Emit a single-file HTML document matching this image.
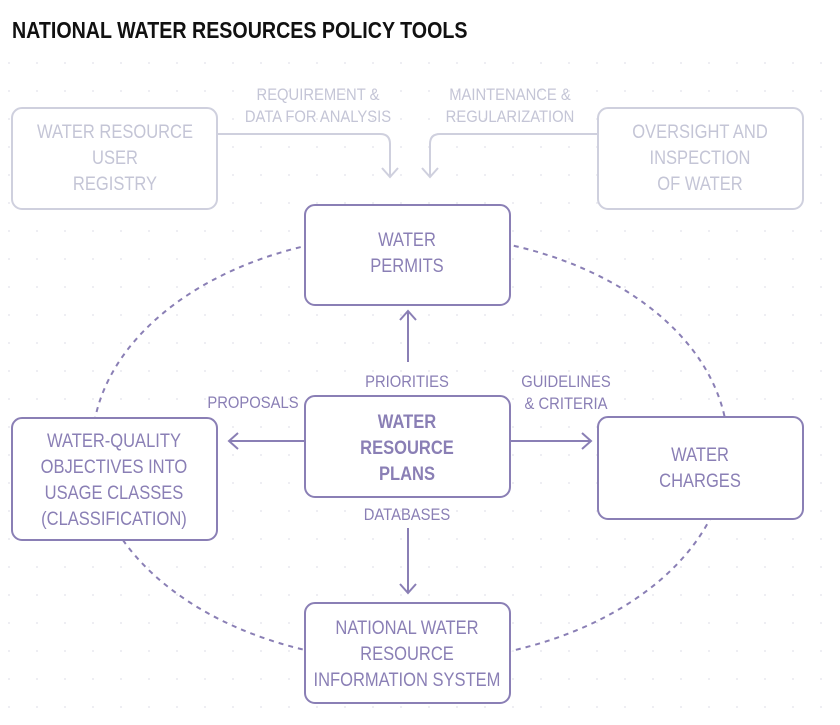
<!DOCTYPE html>
<html><head><meta charset="utf-8"><style>
body{margin:0;background:#fff;}
svg text{font-family:"Liberation Sans",sans-serif;}
</style></head><body>
<svg width="840" height="720" viewBox="0 0 840 720" xmlns="http://www.w3.org/2000/svg">
<defs>
<pattern id="d" width="28" height="28" patternUnits="userSpaceOnUse" x="8" y="6"><circle cx="1" cy="1" r="0.9" fill="#e2e2ea"/></pattern>
</defs>
<rect width="840" height="720" fill="#fff"/>
<rect x="0" y="60" width="840" height="660" fill="url(#d)"/>
<text transform="scale(0.855,1)" x="14" y="38" font-size="23" font-weight="bold" fill="#111">NATIONAL WATER RESOURCES POLICY TOOLS</text>

<ellipse cx="410" cy="448" rx="318" ry="214" fill="none" stroke="#8a7fb5" stroke-width="2" stroke-dasharray="5,5"/>

<g fill="#fff" stroke-width="2">
<rect x="12" y="108" width="205" height="101" rx="10" stroke="#cfd0de"/>
<rect x="598" y="108" width="205" height="101" rx="10" stroke="#cfd0de"/>
<rect x="305" y="205" width="205" height="100" rx="10" stroke="#8a7fb5"/>
<rect x="305" y="396" width="205" height="101" rx="10" stroke="#8a7fb5"/>
<rect x="12" y="418" width="205" height="122" rx="10" stroke="#8a7fb5"/>
<rect x="598" y="417" width="205" height="102" rx="10" stroke="#8a7fb5"/>
<rect x="305" y="603" width="205" height="100" rx="10" stroke="#8a7fb5"/>
</g>

<g fill="none" stroke="#cfd0de" stroke-width="2">
<path d="M217 134 H380 q10 0 10 10 V176"/><path d="M382 168 l8 9 l8 -9"/>
<path d="M598 134 H440 q-10 0 -10 10 V176"/><path d="M422 168 l8 9 l8 -9"/>
</g>
<g fill="none" stroke="#8a7fb5" stroke-width="2">
<path d="M408 362 V312"/><path d="M400 320 l8 -9 l8 9"/>
<path d="M305 441 H230"/><path d="M238 433 l-9 8 l9 8"/>
<path d="M510 441 H590"/><path d="M582 433 l9 8 l-9 8"/>
<path d="M408 528 V592"/><path d="M400 584 l8 9 l8 -9"/>
</g>

<g transform="scale(0.87,1)">
<g font-size="19" text-anchor="middle" fill="#c4c5d6">
<text x="132.2" y="138">WATER RESOURCE</text><text x="132.2" y="164">USER</text><text x="132.2" y="190">REGISTRY</text>
<text x="804.6" y="138">OVERSIGHT AND</text><text x="804.6" y="164">INSPECTION</text><text x="804.6" y="190">OF WATER</text>
</g>
<g font-size="17" text-anchor="middle" fill="#c4c5d6">
<text x="365.5" y="100">REQUIREMENT &amp;</text><text x="365.5" y="122">DATA FOR ANALYSIS</text>
<text x="586.2" y="100">MAINTENANCE &amp;</text><text x="586.2" y="122">REGULARIZATION</text>
</g>
<g font-size="19" text-anchor="middle" fill="#8a7fb5">
<text x="467.8" y="246">WATER</text><text x="467.8" y="272">PERMITS</text>
<text x="131" y="447">WATER-QUALITY</text><text x="131" y="473">OBJECTIVES INTO</text><text x="131" y="499">USAGE CLASSES</text><text x="131" y="525">(CLASSIFICATION)</text>
<text x="804.6" y="461">WATER</text><text x="804.6" y="487">CHARGES</text>
<text x="467.8" y="634">NATIONAL WATER</text><text x="467.8" y="660">RESOURCE</text><text x="467.8" y="686">INFORMATION SYSTEM</text>
</g>
<g font-size="19" text-anchor="middle" fill="#8a7fb5" font-weight="bold">
<text x="467.8" y="428">WATER</text><text x="467.8" y="454">RESOURCE</text><text x="467.8" y="480">PLANS</text>
</g>
<g font-size="17" text-anchor="middle" fill="#8a7fb5">
<text x="467.8" y="387">PRIORITIES</text>
<text x="290.8" y="408">PROPOSALS</text>
<text x="650.6" y="387">GUIDELINES</text><text x="650.6" y="409">&amp; CRITERIA</text>
<text x="467.8" y="520">DATABASES</text>
</g>
</g>
</svg>
</body></html>
